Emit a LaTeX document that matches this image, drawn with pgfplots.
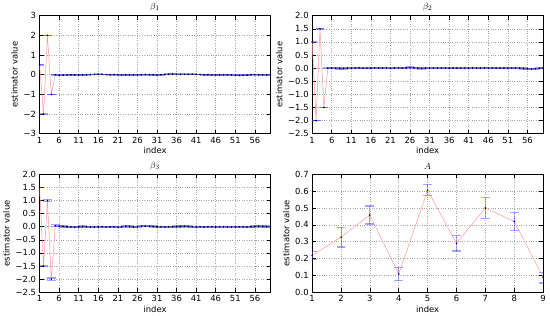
\documentclass[border=0pt]{standalone}
\usepackage{fontspec}
\setmainfont{DejaVu Sans}
\usepackage{pgfplots}
\usepackage{pgfplotstable}
\pgfplotsset{compat=1.18}
\definecolor{lred}{RGB}{255,150,150}
\definecolor{lblue}{RGB}{70,70,255}
\pgfplotsset{
 panel/.style={scale only axis, width=233pt, height=119pt, anchor=south west,
   /pgf/number format/assume math mode=true,
   grid=major, major grid style={dotted, gray!70, line width=0.5pt},
   tick style={black, line width=0.5pt}, major tick length=4pt,
   tick label style={font=\fontsize{8.5}{9}\selectfont},
   label style={font=\fontsize{8.5}{9}\selectfont},
   title style={font=\fontsize{9.5}{10}\selectfont, yshift=-5pt},
   xlabel={index}, ylabel={estimator value},
   xlabel style={yshift=3pt}, ylabel style={yshift=-1pt},
   axis line style={black, line width=0.6pt}},
 est/.style={color=lred, line width=0.5pt, mark=*, mark size=0.5pt,
   mark options={black, fill=black},
   error bars/.cd, y dir=both, y explicit,
   error bar style={draw=lblue, opacity=0.5, line width=0.8pt},
   error mark=-, error mark options={rotate=90, lblue, draw=lblue, opacity=0.5, line width=1.2pt, mark size=4.5pt}},
}
\pgfplotstableread{
x y e
1 0.5 0.01
2 -2 0.01
3 2 0.01
4 -1 0.01
5 0 0.02
6 -0.03 0.02
7 -0.02 0.02
8 -0.01 0.02
9 0.00 0.02
10 -0.01 0.02
11 0.00 0.02
12 -0.01 0.02
13 0.00 0.02
14 0.01 0.02
15 0.01 0.02
16 0.02 0.02
17 0.01 0.02
18 0.01 0.02
19 0.00 0.02
20 0.01 0.02
21 0.00 0.02
22 -0.01 0.02
23 0.00 0.02
24 0.00 0.02
25 -0.01 0.02
26 0.00 0.02
27 0.00 0.02
28 0.01 0.02
29 0.00 0.02
30 0.00 0.02
31 -0.01 0.02
32 0.00 0.02
33 0.01 0.02
34 0.02 0.02
35 0.03 0.02
36 0.02 0.02
37 0.01 0.02
38 0.02 0.02
39 0.01 0.02
40 0.02 0.02
41 0.01 0.02
42 0.01 0.02
43 0.00 0.02
44 0.00 0.02
45 -0.01 0.02
46 0.00 0.02
47 -0.01 0.02
48 0.00 0.02
49 0.00 0.02
50 -0.01 0.02
51 -0.02 0.02
52 -0.04 0.02
53 -0.04 0.02
54 -0.02 0.02
55 0.00 0.02
56 0.01 0.02
57 0.00 0.02
58 0.00 0.02
59 -0.01 0.02
60 0.00 0.02
}\bone
\pgfplotstableread{
x y e
1 1.0 0.01
2 -2 0.01
3 1.5 0.01
4 -1.5 0.01
5 0.0 0.02
6 0.01 0.02
7 0.00 0.02
8 -0.01 0.02
9 -0.01 0.02
10 0.00 0.02
11 0.00 0.02
12 0.00 0.02
13 0.01 0.02
14 0.00 0.02
15 0.00 0.02
16 0.00 0.02
17 0.01 0.02
18 0.00 0.02
19 0.00 0.02
20 0.01 0.02
21 0.00 0.02
22 0.00 0.02
23 0.01 0.02
24 0.00 0.02
25 0.01 0.02
26 0.03 0.02
27 0.01 0.02
28 0.00 0.02
29 -0.01 0.02
30 0.00 0.02
31 0.00 0.02
32 0.00 0.02
33 0.00 0.02
34 0.00 0.02
35 0.00 0.02
36 0.00 0.02
37 0.00 0.02
38 0.00 0.02
39 0.00 0.02
40 0.00 0.02
41 0.00 0.02
42 0.01 0.02
43 0.00 0.02
44 0.00 0.02
45 0.01 0.02
46 0.01 0.02
47 0.00 0.02
48 0.00 0.02
49 0.00 0.02
50 0.00 0.02
51 0.00 0.02
52 0.00 0.02
53 0.00 0.02
54 0.00 0.02
55 -0.01 0.02
56 -0.02 0.02
57 -0.03 0.02
58 -0.02 0.02
59 0.00 0.02
60 0.00 0.02
}\btwo
\pgfplotstableread{
x y e
1 1.5 0.01
2 -1.5 0.01
3 1.0 0.03
4 -2.0 0.04
5 0.04 0.03
6 0.02 0.02
7 0.01 0.02
8 0.00 0.02
9 -0.01 0.02
10 -0.02 0.02
11 0.00 0.02
12 0.01 0.02
13 0.00 0.02
14 -0.01 0.02
15 -0.01 0.02
16 0.00 0.02
17 0.00 0.02
18 -0.01 0.02
19 0.00 0.02
20 0.00 0.02
21 -0.02 0.02
22 -0.01 0.02
23 0.02 0.02
24 0.01 0.02
25 -0.01 0.02
26 0.00 0.02
27 0.03 0.02
28 0.02 0.02
29 0.02 0.02
30 0.01 0.02
31 0.00 0.02
32 0.00 0.02
33 -0.01 0.02
34 0.00 0.02
35 0.00 0.02
36 0.01 0.02
37 0.01 0.02
38 0.02 0.02
39 0.01 0.02
40 0.00 0.02
41 -0.01 0.02
42 0.00 0.02
43 -0.01 0.02
44 0.00 0.02
45 0.00 0.02
46 -0.01 0.02
47 0.00 0.02
48 0.00 0.02
49 0.00 0.02
50 -0.01 0.02
51 0.00 0.02
52 0.00 0.02
53 0.00 0.02
54 -0.01 0.02
55 0.00 0.02
56 0.01 0.02
57 0.02 0.02
58 0.01 0.02
59 0.01 0.02
60 0.00 0.02
}\bthree
\pgfplotstableread{
x y ep em
1 0.218 0.023 0.023
2 0.327 0.058 0.059
3 0.458 0.054 0.053
4 0.108 0.037 0.038
5 0.605 0.035 0.030
6 0.290 0.045 0.045
7 0.500 0.060 0.060
8 0.420 0.053 0.055
9 0.090 0.025 0.035
}\Adata
\begin{document}
\begin{tikzpicture}
\path (0,0) rectangle (550pt,316pt);
\begin{axis}[panel, at={(35pt,183pt)}, title={$\beta_1$},
  xmin=1, xmax=60, ymin=-3, ymax=3,
  xtick={1,6,...,56}, ytick={-3,-2,...,3},
  yticklabels={−3,−2,−1,0,1,2,3}]
\addplot[est] table[x=x,y=y,y error=e]{\bone};
\end{axis}
\begin{axis}[panel, at={(310pt,183pt)}, title={$\beta_2$},
  xmin=1, xmax=60, ymin=-2.5, ymax=2,
  xtick={1,6,...,56}, ytick={-2.5,-2,...,2},
  yticklabels={−2.5,−2.0,−1.5,−1.0,−0.5,0.0,0.5,1.0,1.5,2.0}]
\addplot[est] table[x=x,y=y,y error=e]{\btwo};
\end{axis}
\begin{axis}[panel, at={(35pt,23pt)}, title={$\beta_3$},
  xmin=1, xmax=60, ymin=-2.5, ymax=2,
  xtick={1,6,...,56}, ytick={-2.5,-2,...,2},
  yticklabels={−2.5,−2.0,−1.5,−1.0,−0.5,0.0,0.5,1.0,1.5,2.0}]
\addplot[est] table[x=x,y=y,y error=e]{\bthree};
\end{axis}
\begin{axis}[panel, at={(310pt,23pt)}, title={$A$},
  xmin=1, xmax=9, ymin=0, ymax=0.7,
  xtick={1,...,9}, ytick={0,0.1,...,0.7},
  yticklabels={0.0,0.1,0.2,0.3,0.4,0.5,0.6,0.7}]
\addplot[est] table[x=x,y=y,y error plus=ep,y error minus=em]{\Adata};
\end{axis}
\end{tikzpicture}
\end{document}
